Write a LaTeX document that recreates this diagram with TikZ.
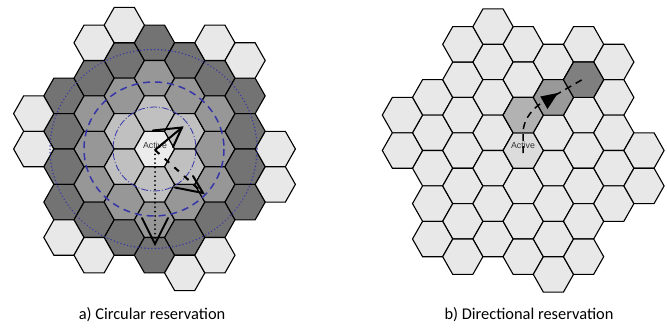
\documentclass[tikz,border=0pt]{standalone}
\usepackage{fontspec}
\setmainfont{Carlito}
\newfontfamily\lblfont{Liberation Sans}
\definecolor{ringc0}{HTML}{ECECEC}
\definecolor{ringc1}{HTML}{C0C0C0}
\definecolor{ringc2}{HTML}{979797}
\definecolor{ringc3}{HTML}{737373}
\definecolor{outercell}{HTML}{E8E8E8}
\definecolor{actR}{HTML}{DCDCDC}
\definecolor{dirA}{HTML}{B2B2B2}
\definecolor{dirB}{HTML}{999999}
\definecolor{dirC}{HTML}{7F7F7F}
\definecolor{ringblue}{HTML}{3636A8}
\definecolor{lbltext}{HTML}{333333}
\begin{document}
\begin{tikzpicture}[x=1pt,y=-1pt,
  hexcell/.style={draw=black,line width=1.1pt,line join=miter},
  activelbl/.style={font=\lblfont\fontsize{8.8}{9}\selectfont,text=lbltext,inner sep=0pt},
  caption/.style={font=\fontsize{16.4}{18}\selectfont,anchor=base,inner sep=0pt},
  barb/.style={draw=black,line width=2pt,line join=miter,line cap=round},
  ring/.style={draw=ringblue}]
\useasboundingbox (0,0) rectangle (667,329);

% ---------- left grid ----------
\foreach \c in {-4,...,4}{
  \foreach \j in {-8,...,8}{
    \pgfmathtruncatemacro\pp{mod(abs(\c)+abs(\j),2)}
    \pgfmathtruncatemacro\dd{max(abs(\c),(abs(\c)+abs(\j))/2)}
    \ifnum\pp=0 \ifnum\dd<4
      \path[hexcell,fill=ringc\dd,shift={({154.5+30.2*\c},{149+17.7*\j})}]
        (20.1,0) -- (10.05,17.7) -- (-10.05,17.7) -- (-20.1,0) -- (-10.05,-17.7) -- (10.05,-17.7) -- cycle;
    \fi\fi
  }
}
\foreach \c/\j in {-4/-2,-4/0,-3/5,-2/-6,-2/6,-1/-7,1/7,2/-6,2/6,3/-5,4/0,4/2}{
  \path[hexcell,fill=outercell,shift={({154.5+30.2*\c},{149+17.7*\j})}]
    (20.1,0) -- (10.05,17.7) -- (-10.05,17.7) -- (-20.1,0) -- (-10.05,-17.7) -- (10.05,-17.7) -- cycle;
}

% ---------- right grid ----------
\foreach \c in {-4,...,4}{
  \foreach \j in {-8,...,8}{
    \pgfmathtruncatemacro\pp{mod(abs(\c)+abs(\j),2)}
    \pgfmathtruncatemacro\dd{max(abs(\c),(abs(\c)+abs(\j))/2)}
    \ifnum\pp=0 \ifnum\dd<4
      \path[hexcell,fill=outercell,shift={({523.2+30.2*\c},{150.5+17.7*\j})}]
        (20.1,0) -- (10.05,17.7) -- (-10.05,17.7) -- (-20.1,0) -- (-10.05,-17.7) -- (10.05,-17.7) -- cycle;
    \fi\fi
  }
}
\foreach \c/\j/\col in {-4/-2/outercell,-4/0/outercell,-3/5/outercell,-2/-6/outercell,-2/6/outercell,-1/-7/outercell,1/7/outercell,2/-6/outercell,2/6/outercell,3/-5/outercell,4/0/outercell,4/2/outercell,0/0/actR,0/-2/dirA,1/-3/dirB,2/-4/dirC}{
  \path[hexcell,fill=\col,shift={({523.2+30.2*\c},{150.5+17.7*\j})}]
    (20.1,0) -- (10.05,17.7) -- (-10.05,17.7) -- (-20.1,0) -- (-10.05,-17.7) -- (10.05,-17.7) -- cycle;
}

% ---------- left: reservation circles ----------
\coordinate (LC) at (154.5,149);
\draw[ring,line width=0.8pt,dash pattern=on 7pt off 2pt on 1pt off 2pt] (LC) circle[x radius=41.5,y radius=42];
\draw[ring,line width=1.5pt,dash pattern=on 7pt off 5pt] (154,149) circle[x radius=70,y radius=67];
\draw[ring,line width=1.5pt,dash pattern=on 0.1pt off 3.4pt,line cap=round] (153.5,149) circle[x radius=103.5,y radius=99.5];

% ---------- left: label and arrows ----------
\node[activelbl] (actLeft) at (155,145) {Active};
\coordinate (LA) at (155,150);
\coordinate (T1) at (182,127.5);
\coordinate (B1a) at (153,130.5);
\coordinate (B1b) at (173,147);
\coordinate (T2) at (203,193);
\coordinate (B2a) at (193,176);
\coordinate (B2b) at (175,187.5);
\coordinate (T3) at (155,244);
\coordinate (B3a) at (142,218);
\coordinate (B3b) at (168,218);
\draw[black,line width=2pt] (LA) -- (T1);
\draw[barb] (B1a) -- (T1) -- (B1b);
\draw[black,line width=2pt,dash pattern=on 6pt off 7pt] (LA) -- (T2);
\draw[barb] (B2a) -- (T2) -- (B2b);
\draw[black,line width=2pt,dash pattern=on 0pt off 4.4pt,line cap=round] (LA) -- (T3);
\draw[barb] (B3a) -- (T3) -- (B3b);

% ---------- right: label and directional arrow ----------
\node[activelbl] (actRight) at (523,145.5) {Active};
\coordinate (RS) at (523,153);
\coordinate (RS2) at (523,133);
\coordinate (RM) at (540,104);
\coordinate (RE) at (585,78);
\draw[black,line width=1.5pt,dash pattern=on 7pt off 5pt] (RS) -- (RS2) .. controls (523,122) and (530,111) .. (RM) -- (RE);
\coordinate (RT) at (558,93);
\coordinate (RB1) at (540.3,96.5);
\coordinate (RB2) at (547.5,109);
\fill[black] (RT) -- (RB1) -- (RB2) -- cycle;

% ---------- captions ----------
\node[caption] (capA) at (152,319.5) {a) Circular reservation};
\node[caption] (capB) at (529,319.5) {b) Directional reservation};
\end{tikzpicture}
\end{document}
